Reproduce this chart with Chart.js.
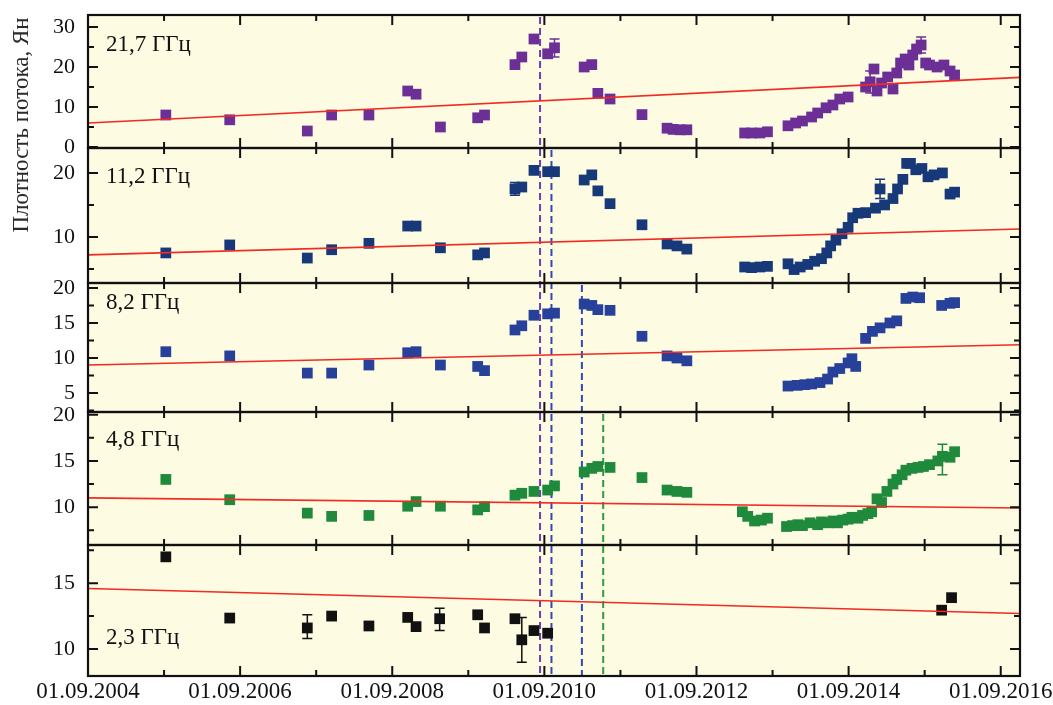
<!DOCTYPE html>
<html>
<head>
<meta charset="utf-8">
<script src="https://cdn.jsdelivr.net/npm/chart.js@4"></script>
<style>
  html, body { margin: 0; background: #fff; }
</style>
</head>
<body>
<canvas id="flux" width="1053" height="705"></canvas>
<script>
// time axis: decimal years, counted from 01.09.2004
var T0 = 2004 + 8 / 12;
var TEND = 2016.92;

// flux density, Jy — [year, value]
var f217 = [[2005.69, 8.0], [2006.53, 6.8], [2007.55, 4.0], [2007.87, 8.0], [2008.36, 8.0], [2008.87, 14.0], [2008.98, 13.2],
  [2009.30, 5.0], [2009.79, 7.3], [2009.88, 8.0], [2010.28, 20.6], [2010.37, 22.5], [2010.53, 27.0], [2010.71, 23.3],
  [2010.80, 24.8], [2011.19, 20.0], [2011.29, 20.6], [2011.37, 13.4], [2011.53, 12.0], [2011.95, 8.1], [2012.28, 4.7],
  [2012.36, 4.4], [2012.45, 4.3], [2012.54, 4.3], [2013.30, 3.5], [2013.39, 3.5], [2013.50, 3.5], [2013.60, 3.8],
  [2013.87, 5.3], [2013.97, 6.0], [2014.06, 6.5], [2014.18, 7.5], [2014.26, 8.5], [2014.37, 9.8], [2014.46, 10.5],
  [2014.55, 12.0], [2014.66, 12.5], [2014.89, 15.0], [2014.95, 16.3], [2015.00, 19.5], [2015.04, 14.0], [2015.10, 16.0],
  [2015.18, 17.5], [2015.25, 14.5], [2015.30, 18.5], [2015.35, 21.0], [2015.41, 22.0], [2015.46, 20.5], [2015.51, 23.0],
  [2015.56, 24.5], [2015.62, 25.5], [2015.68, 21.0], [2015.73, 20.5], [2015.83, 20.0], [2015.92, 20.5], [2016.00, 19.0],
  [2016.06, 18.0]];
var f112 = [[2005.69, 7.5], [2006.53, 8.75], [2007.55, 6.7], [2007.87, 8.0], [2008.36, 9.0], [2008.87, 11.7], [2008.98, 11.7],
  [2009.30, 8.3], [2009.79, 7.2], [2009.88, 7.5], [2010.28, 17.5], [2010.37, 17.8], [2010.53, 20.4], [2010.71, 20.2],
  [2010.80, 20.2], [2011.19, 18.9], [2011.29, 19.7], [2011.37, 17.2], [2011.53, 15.2], [2011.95, 11.9], [2012.28, 8.9],
  [2012.41, 8.6], [2012.54, 8.1], [2013.30, 5.3], [2013.39, 5.2], [2013.50, 5.3], [2013.60, 5.4], [2013.87, 5.8],
  [2013.95, 4.9], [2014.03, 5.3], [2014.13, 5.7], [2014.22, 6.2], [2014.31, 6.6], [2014.38, 7.5], [2014.43, 8.6],
  [2014.50, 9.5], [2014.58, 10.5], [2014.66, 11.5], [2014.72, 13.0], [2014.79, 13.7], [2014.89, 13.8], [2015.02, 14.5],
  [2015.08, 17.5], [2015.14, 15.0], [2015.25, 16.0], [2015.31, 17.5], [2015.38, 19.0], [2015.43, 21.5], [2015.48, 21.5],
  [2015.55, 20.5], [2015.63, 20.7], [2015.71, 19.4], [2015.79, 19.7], [2015.90, 20.0], [2016.00, 16.7], [2016.06, 17.0]];
var f82 = [[2005.69, 10.9], [2006.53, 10.3], [2007.55, 7.85], [2007.87, 7.85], [2008.36, 9.0], [2008.87, 10.75], [2008.98, 10.9],
  [2009.30, 9.0], [2009.79, 8.8], [2009.88, 8.2], [2010.28, 14.0], [2010.37, 14.6], [2010.53, 16.1], [2010.71, 16.3],
  [2010.80, 16.4], [2011.19, 17.7], [2011.29, 17.5], [2011.37, 16.9], [2011.53, 16.8], [2011.95, 13.1], [2012.28, 10.3],
  [2012.41, 10.0], [2012.54, 9.6], [2013.87, 6.0], [2013.99, 6.1], [2014.09, 6.2], [2014.18, 6.3], [2014.29, 6.5],
  [2014.39, 7.0], [2014.46, 8.0], [2014.55, 8.5], [2014.66, 9.3], [2014.71, 9.9], [2014.76, 8.8], [2014.89, 12.8],
  [2014.98, 13.8], [2015.08, 14.3], [2015.21, 15.0], [2015.30, 15.3], [2015.42, 18.5], [2015.51, 18.7], [2015.60, 18.6],
  [2015.89, 17.5], [2016.00, 17.8], [2016.06, 17.9]];
var f48 = [[2005.69, 13.0], [2006.53, 10.8], [2007.55, 9.35], [2007.87, 9.0], [2008.36, 9.1], [2008.87, 10.1], [2008.98, 10.6],
  [2009.30, 10.1], [2009.79, 9.7], [2009.88, 10.05], [2010.28, 11.3], [2010.37, 11.5], [2010.53, 11.7], [2010.71, 11.85],
  [2010.80, 12.3], [2011.19, 13.8], [2011.29, 14.2], [2011.37, 14.4], [2011.53, 14.3], [2011.95, 13.2], [2012.28, 11.85],
  [2012.41, 11.7], [2012.54, 11.6], [2013.27, 9.5], [2013.34, 9.0], [2013.43, 8.5], [2013.52, 8.6], [2013.60, 8.8],
  [2013.85, 7.9], [2013.93, 8.0], [2014.00, 8.1], [2014.06, 8.0], [2014.16, 8.3], [2014.26, 8.1], [2014.31, 8.4],
  [2014.39, 8.3], [2014.46, 8.5], [2014.52, 8.3], [2014.59, 8.6], [2014.66, 8.7], [2014.71, 8.9], [2014.79, 8.8],
  [2014.85, 9.1], [2014.92, 9.3], [2014.97, 9.5], [2015.04, 10.9], [2015.10, 10.5], [2015.17, 11.7], [2015.25, 12.5],
  [2015.30, 13.0], [2015.37, 13.5], [2015.42, 14.0], [2015.50, 14.2], [2015.58, 14.3], [2015.65, 14.4], [2015.73, 14.6],
  [2015.84, 15.0], [2015.90, 15.5], [2016.00, 15.4], [2016.06, 16.0]];
var f23 = [[2005.69, 17.0], [2006.53, 12.35], [2007.55, 11.6], [2007.87, 12.5], [2008.36, 11.75], [2008.87, 12.4], [2008.98, 11.7],
  [2009.29, 12.3], [2009.79, 12.6], [2009.88, 11.6], [2010.28, 12.3], [2010.37, 10.7], [2010.53, 11.4], [2010.71, 11.2],
  [2015.89, 12.95], [2016.02, 13.9]];

// error bars — [year, low, high]
var e217 = [[2010.80, 22.5, 27.0], [2014.95, 13.5, 19.0], [2015.62, 23.5, 27.5]];
var e112 = [[2010.28, 16.5, 18.5], [2015.08, 16.0, 19.0]];
var e82 = [];
var e48 = [[2015.90, 13.5, 16.8]];
var e23 = [[2007.55, 10.8, 12.6], [2009.29, 11.4, 13.1], [2010.37, 9.0, 12.4]];

// linear trends — value at the start and at the end of the time axis
var trend217 = [6.0, 17.4];
var trend112 = [7.2, 11.25];
var trend82 = [9.0, 11.9];
var trend48 = [11.0, 9.9];
var trend23 = [14.6, 12.7];

// flare epochs (dashed verticals) and the top panel each one starts from
var flareDates = [2010.61, 2010.76, 2011.16, 2011.44];
var flareFrom = ['y217', 'y112', 'y82', 'y48'];
var flareColors = ['#6a3fb0', '#3347b5', '#3347b5', '#2e9a45'];

var SERIF = '"Liberation Serif", "Times New Roman", serif';

// bottom panel first: stacked left axes are laid out from the last one down
var panels = [
  { id: 'y23', label: '2,3 ГГц', data: f23, err: e23, trend: trend23, color: '#111111',
    min: 7.95, max: 17.9, step: 2.5, major: [10, 15], weight: 131, labelY: -38 },
  { id: 'y48', label: '4,8 ГГц', data: f48, err: e48, trend: trend48, color: '#1f8a3c',
    min: 5.9, max: 20.3, step: 2.5, major: [10, 15, 20], weight: 133, labelY: 28 },
  { id: 'y82', label: '8,2 ГГц', data: f82, err: e82, trend: trend82, color: '#27409a',
    min: 2.3, max: 20.7, step: 2.5, major: [5, 10, 15, 20], weight: 129, labelY: 20 },
  { id: 'y112', label: '11,2 ГГц', data: f112, err: e112, trend: trend112, color: '#17397a',
    min: 2.8, max: 23.9, step: 5, major: [10, 20], weight: 135, labelY: 29 },
  { id: 'y217', label: '21,7 ГГц', data: f217, err: e217, trend: trend217, color: '#6b2f96',
    min: -0.25, max: 33, step: 5, major: [0, 10, 20, 30], weight: 133, labelY: 30 }
];

function toXY(rows) {
  return rows.map(function (r) { return { x: r[0] - T0, y: r[1] }; });
}

var datasets = [];
var scales = {
  x: {
    type: 'linear', position: 'bottom', min: 0, max: TEND - T0,
    grid: { display: false, drawTicks: false }, border: { display: false },
    ticks: {
      stepSize: 1, includeBounds: false, autoSkip: false, maxRotation: 0, padding: 2,
      color: '#111', font: { family: SERIF, size: 23 },
      callback: function (v) { return v % 2 === 0 ? '01.09.' + (2004 + v) : ''; }
    },
    afterFit: function (s) { s.height = 29; s.paddingLeft = 0; s.paddingRight = 0; }
  }
};

panels.forEach(function (p) {
  scales[p.id] = {
    type: 'linear', position: 'left', stack: 'panels', stackWeight: p.weight,
    min: p.min, max: p.max,
    grid: { display: false, drawTicks: false }, border: { display: false },
    ticks: {
      stepSize: p.step, includeBounds: false, autoSkip: false, padding: 13,
      color: '#111', font: { family: SERIF, size: 22 },
      callback: function (v) { return p.major.indexOf(v) >= 0 ? String(v) : ''; }
    },
    afterFit: function (s) { s.width = 88; s.paddingTop = 0; s.paddingBottom = 0; }
  };
  datasets.push({
    type: 'line', yAxisID: p.id, showLine: true, pointRadius: 0,
    borderColor: '#f22a22', borderWidth: 1.6,
    data: [{ x: 0, y: p.trend[0] }, { x: TEND - T0, y: p.trend[1] }]
  });
  datasets.push({
    type: 'scatter', yAxisID: p.id, showLine: false,
    pointStyle: 'rect', pointRadius: 7.6, borderWidth: 0,
    backgroundColor: p.color, errorBars: p.err,
    data: toXY(p.data)
  });
});

var panelPlugin = {
  id: 'panelPlugin',
  beforeDraw: function (chart) {
    var ctx = chart.ctx, a = chart.chartArea;
    ctx.save();
    ctx.fillStyle = '#ffffff';
    ctx.fillRect(0, 0, chart.width, chart.height);
    ctx.fillStyle = '#fdfbe2';
    ctx.fillRect(a.left, a.top, a.right - a.left, a.bottom - a.top);
    ctx.restore();
  },
  beforeDatasetsDraw: function (chart) {
    var ctx = chart.ctx, a = chart.chartArea, xs = chart.scales.x;
    ctx.save();
    // dashed flare markers
    ctx.lineWidth = 2;
    ctx.setLineDash([7, 4]);
    flareDates.forEach(function (t, i) {
      var px = xs.getPixelForValue(t - T0);
      ctx.strokeStyle = flareColors[i];
      ctx.beginPath();
      ctx.moveTo(px, chart.scales[flareFrom[i]].top + 2);
      ctx.lineTo(px, a.bottom);
      ctx.stroke();
    });
    ctx.setLineDash([]);
    // error bars
    chart.data.datasets.forEach(function (ds) {
      if (!ds.errorBars) return;
      var ys = chart.scales[ds.yAxisID];
      ctx.strokeStyle = ds.backgroundColor;
      ctx.lineWidth = 1.5;
      ds.errorBars.forEach(function (e) {
        var px = xs.getPixelForValue(e[0] - T0);
        var lo = ys.getPixelForValue(e[1]), hi = ys.getPixelForValue(e[2]);
        ctx.beginPath();
        ctx.moveTo(px, lo); ctx.lineTo(px, hi);
        ctx.moveTo(px - 5, lo); ctx.lineTo(px + 5, lo);
        ctx.moveTo(px - 5, hi); ctx.lineTo(px + 5, hi);
        ctx.stroke();
      });
    });
    ctx.restore();
  },
  afterDatasetsDraw: function (chart) {
    var ctx = chart.ctx, a = chart.chartArea, xs = chart.scales.x;
    ctx.save();
    ctx.strokeStyle = '#111';
    ctx.fillStyle = '#111';
    panels.forEach(function (p) {
      var ys = chart.scales[p.id];
      ctx.lineWidth = 2.2;
      ctx.strokeRect(a.left, ys.top, a.right - a.left, ys.bottom - ys.top);
      ctx.lineWidth = 2;
      ctx.beginPath();
      // inward ticks on the time axis, top and bottom of every panel
      xs.ticks.forEach(function (t) {
        var px = xs.getPixelForValue(t.value);
        var len = t.value % 2 === 0 ? 10 : 6;
        ctx.moveTo(px, ys.top); ctx.lineTo(px, ys.top + len);
        ctx.moveTo(px, ys.bottom); ctx.lineTo(px, ys.bottom - len);
      });
      // inward ticks on the flux axes, left and right
      ys.ticks.forEach(function (t) {
        var py = ys.getPixelForValue(t.value);
        var len = p.step === 5 ? (t.value % 10 === 0 ? 10 : 6) : (t.value % 5 === 0 ? 10 : 6);
        ctx.moveTo(a.left, py); ctx.lineTo(a.left + len, py);
        ctx.moveTo(a.right, py); ctx.lineTo(a.right - len, py);
      });
      ctx.stroke();
      // frequency caption
      ctx.font = '23px ' + SERIF;
      ctx.textBaseline = 'middle';
      ctx.textAlign = 'left';
      var ty = p.labelY > 0 ? ys.top + p.labelY : ys.bottom + p.labelY;
      ctx.fillText(p.label, a.left + 18, ty);
    });
    // axis title
    ctx.translate(22, 125);
    ctx.rotate(-Math.PI / 2);
    ctx.textAlign = 'center';
    ctx.textBaseline = 'middle';
    ctx.fillStyle = '#2a2a2a';
    ctx.font = '23px ' + SERIF;
    ctx.fillText('Плотность потока, Ян', 0, 0);
    ctx.restore();
  }
};

var chart = new Chart(document.getElementById('flux').getContext('2d'), {
  type: 'scatter',
  data: { datasets: datasets },
  options: {
    responsive: false,
    devicePixelRatio: 1,
    animation: false,
    layout: { padding: { left: 0, top: 15, right: 33, bottom: 0 } },
    plugins: { legend: { display: false }, tooltip: { enabled: false } },
    scales: scales
  },
  plugins: [panelPlugin]
});
</script>
</body>
</html>
